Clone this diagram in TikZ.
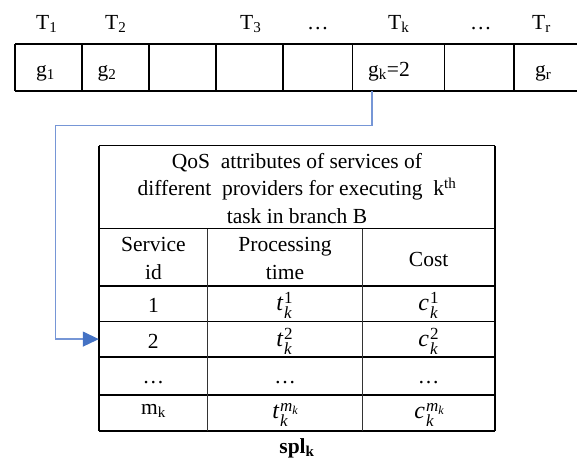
\documentclass[tikz,border=0pt]{standalone}
\usepackage{fontspec}
\setmainfont{Liberation Serif}
\usetikzlibrary{arrows.meta,calc}
\definecolor{linkblue}{RGB}{118,150,214}
\definecolor{tipblue}{RGB}{68,114,196}
% QoS value: italic letter with a superscript (provider) and a subscript (task)
\newcommand{\supsz}{\fontsize{17}{17}\selectfont}
\newcommand{\qv}[3]{{\fontsize{24}{24}\selectfont\itshape #1}\hspace{1pt}\rlap{\raisebox{6.8pt}{\supsz #2}}\raisebox{-8.3pt}{\supsz\itshape #3}}
\newcommand{\mk}{\textit{m}\raisebox{-3.5pt}{\fontsize{12}{12}\selectfont\itshape k}}
\begin{document}
\begin{tikzpicture}[x=1pt,y=-1pt,
  every node/.style={inner sep=0pt,font=\fontsize{21.5}{27}\selectfont},
  rule/.style={line width=1.7pt,black},
  thinrule/.style={line width=1pt,black!80},
  lbl/.style={anchor=base west},
  txt/.style={anchor=base},
  link/.style={line width=1.3pt,linkblue,-{Triangle[length=16pt,width=15pt,color=tipblue]}}]
\useasboundingbox (0,0) rectangle (577,462);

% ---- task / gene row ----
\draw[rule] (15,44) -- (580,44) (15,91) -- (580,91);
\foreach \x in {15,81.7,149,216,283,352.6,444.6,514}
  \draw[rule] (\x,44) -- (\x,91);

\node[lbl] (t1) at (36,29.3) {T\textsubscript{1}};
\node[lbl] (t2) at (105,29.3) {T\textsubscript{2}};
\node[lbl] (t3) at (240,29.3) {T\textsubscript{3}};
\node[lbl] (d1) at (307,29.3) {\dots};
\node[lbl] (tk) at (388,29.3) {T\textsubscript{k}};
\node[lbl] (d2) at (470,29.3) {\dots};
\node[lbl] (tr) at (532,29.3) {T\textsubscript{r}};

\node[lbl] (g1) at (36,76.5) {g\textsubscript{1}};
\node[lbl] (g2) at (97.5,76.5) {g\textsubscript{2}};
\node[lbl] (gk) at (368,76.5) {g\textsubscript{k}=2};
\node[lbl] (gr) at (535,76.5) {g\textsubscript{r}};

% ---- QoS table ----
\foreach \y in {145.7,228.5,285.7,321.5,356.7,395,430.8}
  \draw[rule,line width=1.6pt] (99,\y) -- (495,\y);
\draw[rule,line width=1.6pt] (99,145.7) -- (99,430.8) (495,145.7) -- (495,430.8);
\draw[thinrule] (207.7,228.5) -- (207.7,430.8) (362.3,228.5) -- (362.3,430.8);

\node[txt] (h1) at (297,169) {QoS\ \ attributes of services of};
\node[txt] (h2) at (297,196) {different\ \ providers for executing\ \ k\textsuperscript{th}};
\node[txt] (h3) at (297,223) {task in branch B};

\node[txt] (c1a) at (153.4,251.7) {Service};
\node[txt] (c1b) at (153.4,279) {id};
\node[txt] (c2a) at (285,251.7) {Processing};
\node[txt] (c2b) at (285,279) {time};
\node[txt] (c3) at (428.7,266.7) {Cost};

\node[txt] (s1) at (153.4,312.7) {1};
\node[txt] (p1) at (284,310.5) {\qv{t}{1}{k}};
\node[txt] (k1) at (428,310.5) {\qv{c}{1}{k}};

\node[minimum width=108.7pt,minimum height=35.2pt,text height=18.3pt,text depth=0pt]
  (s2) at (153.35,339.1) {2};
\node[txt] (p2) at (284,346) {\qv{t}{2}{k}};
\node[txt] (k2) at (428,346) {\qv{c}{2}{k}};

\node[txt] (s3) at (153.4,383) {\dots};
\node[txt] (p3) at (285,383) {\dots};
\node[txt] (k3) at (428.7,383) {\dots};

\node[txt] (s4) at (153.4,414) {m\textsubscript{k}};
\node[txt] (p4) at (280,418) {\qv{t}{\mk}{k}};
\node[txt] (k4) at (424,418) {\qv{c}{\mk}{k}};

\node[txt] (cap) at (297,453) {\textbf{spl\textsubscript{k}}};

% ---- link from the k-th gene to its service row ----
\coordinate (tap) at (372,91);
\coordinate (bend) at (55.7,125.7);
\draw[link] (tap) |- (bend) |- (s2.west);
\end{tikzpicture}
\end{document}
